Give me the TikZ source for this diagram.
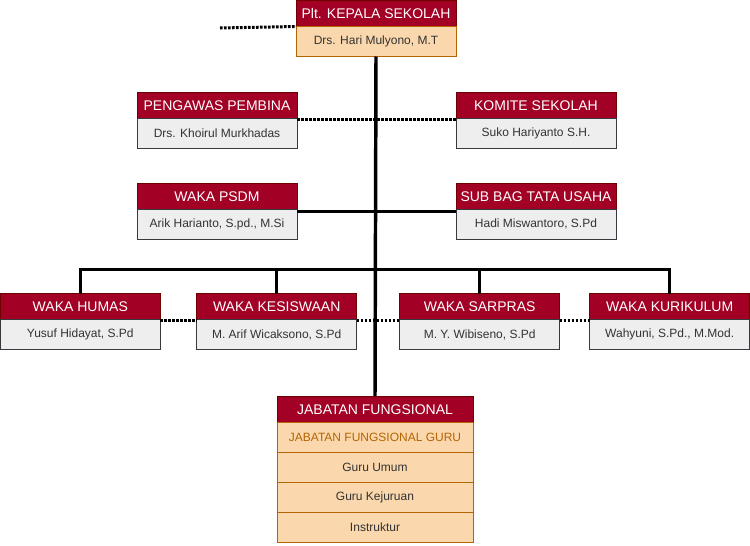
\documentclass[tikz,border=0pt]{standalone}
\usepackage{fontspec}
\setmainfont{Liberation Sans}
\usetikzlibrary{positioning}
\definecolor{headRed}{HTML}{A20025}
\definecolor{headLine}{HTML}{6F0000}
\definecolor{nameGray}{HTML}{EEEEEE}
\definecolor{nameLine}{HTML}{36393D}
\definecolor{peach}{HTML}{FAD7AC}
\definecolor{peachLine}{HTML}{B46504}

\begin{document}
\begin{tikzpicture}[x=0.75pt, y=-0.75pt,
  headbox/.style={draw=headLine, line width=0.75pt, fill=headRed, text=white, outer sep=0pt, inner sep=0pt, minimum width=120pt, minimum height=19.5pt, font=\fontsize{10.5}{12}\selectfont},
  namebox/.style={draw=nameLine, line width=0.75pt, fill=nameGray, text=black!80, outer sep=0pt, inner sep=0pt, minimum width=120pt, minimum height=22.5pt, font=\fontsize{9}{11}\selectfont},
  fungsibox/.style={namebox, draw=peachLine, fill=peach, minimum width=147pt},
  link/.style={line width=2.25pt},
  staff/.style={line width=2.25pt, dash pattern=on 2pt off 1pt}]
\useasboundingbox (0,0) rectangle (750,546);

% pimpinan
\node[headbox] (kepala) at (376,13.5) {Plt. KEPALA SEKOLAH};
\node[namebox, fill=peach, draw=peachLine, below=0pt of kepala] (kepalaName) {Drs. Hari Mulyono, M.T};
\coordinate (kepalaLeft) at (220,28);

\node[headbox] (pengawas) at (217,105.3) {PENGAWAS PEMBINA};
\node[namebox, below=0pt of pengawas] (pengawasName) {Drs. Khoirul Murkhadas};
\node[headbox] (komite) at (536,105.3) {KOMITE SEKOLAH};
\node[namebox, below=0pt of komite] (komiteName) {Suko Hariyanto S.H.};

\node[headbox] (psdm) at (217,196.3) {WAKA PSDM};
\node[namebox, below=0pt of psdm] (psdmName) {Arik Harianto, S.pd., M.Si};
\node[headbox] (tu) at (536,196.3) {SUB BAG TATA USAHA};
\node[namebox, below=0pt of tu] (tuName) {Hadi Miswantoro, S.Pd};

% wakil kepala
\node[headbox] (humas) at (80.3,306.5) {WAKA HUMAS};
\node[namebox, below=0pt of humas] (humasName) {Yusuf Hidayat, S.Pd};
\node[headbox] (kesiswaan) at (276.7,306.5) {WAKA KESISWAAN};
\node[namebox, below=0pt of kesiswaan] (kesiswaanName) {M. Arif Wicaksono, S.Pd};
\node[headbox] (sarpras) at (479.7,306.5) {WAKA SARPRAS};
\node[namebox, below=0pt of sarpras] (sarprasName) {M. Y. Wibiseno, S.Pd};
\node[headbox] (kurikulum) at (669.7,306.5) {WAKA KURIKULUM};
\node[namebox, below=0pt of kurikulum] (kurikulumName) {Wahyuni, S.Pd., M.Mod.};
\coordinate (bus) at (376,269.3);

% jabatan fungsional
\node[headbox, minimum width=147pt] (jabatan) at (375,409.2) {JABATAN FUNGSIONAL};
\node[fungsibox, text=peachLine, below=0pt of jabatan] (fungsiGuru) {JABATAN FUNGSIONAL GURU};
\node[fungsibox, below=0pt of fungsiGuru] (guruUmum) {Guru Umum};
\node[fungsibox, below=0pt of guruUmum] (guruKejuruan) {Guru Kejuruan};
\node[fungsibox, below=0pt of guruKejuruan] (instruktur) {Instruktur};

% garis koordinasi
\draw[staff] (kepalaLeft) -- (kepala.south west);
\draw[staff] ([yshift=-0.75pt]pengawas.south east) -- ([yshift=-0.75pt]komite.south west);
\draw[staff] ([yshift=-1pt]humas.south east) -- ([yshift=-1pt]kesiswaan.south west);
\draw[staff] ([yshift=-1pt]kesiswaan.south east) -- ([yshift=-1pt]sarpras.south west);
\draw[staff] ([yshift=-1pt]sarpras.south east) -- ([yshift=-1pt]kurikulum.south west);

% garis komando
\draw[link] ([yshift=-1.75pt]psdm.south east) -- ([yshift=-1.75pt]tu.south west);
\draw[link] (humas.north) |- (bus);
\draw[link] (kesiswaan.north) |- (bus);
\draw[link] (sarpras.north) |- (bus);
\draw[link] (kurikulum.north) |- (bus);
\draw[link, line width=2.6pt] (kepalaName.south) -- (jabatan.north);
\end{tikzpicture}
\end{document}
